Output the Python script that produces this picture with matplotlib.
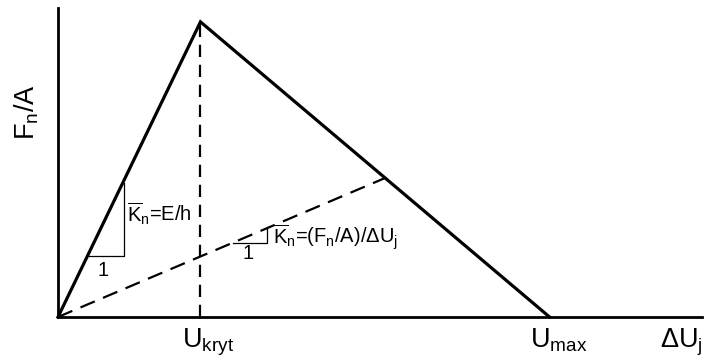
import matplotlib
matplotlib.use("Agg")
import matplotlib.pyplot as plt

plt.rcParams.update({
    "font.family": "Liberation Sans",
    "mathtext.fontset": "custom",
    "mathtext.rm": "Liberation Sans",
    "mathtext.it": "Liberation Sans:italic",
    "mathtext.bf": "Liberation Sans:bold",
})

# characteristic points (Ukryt = 1, peak stress = 1)
u_kryt = 1.0
u_max = 3.45
f_peak = 1.0
secant_end = (2.296, 0.471)          # where the secant meets the softening branch
x_end, y_end = 4.52, 1.047           # axis extents

# small slope triangles: (x0, x1, y0, y1)
tri_elastic = (0.218, 0.465, 0.207, 0.454)
tri_secant = (1.225, 1.465, 0.252, 0.305)

W, H = 704, 363
fig = plt.figure(figsize=(W / 100, H / 100), dpi=100)
ax = fig.add_axes([58 / W, (H - 317) / H, (702 - 58) / W, (317 - 8) / H])
ax.set_xlim(0, x_end)
ax.set_ylim(0, y_end)
for s in ("top", "right"):
    ax.spines[s].set_visible(False)
for s in ("left", "bottom"):
    ax.spines[s].set_linewidth(2.0)
ax.set_xticks([]); ax.set_yticks([])

# bilinear envelope
ax.plot([0, u_kryt, u_max], [0, f_peak, 0], color="black", lw=2.3,
        solid_joinstyle="miter", clip_on=False)
# vertical at Ukryt and the secant
ax.plot([u_kryt, u_kryt], [0, f_peak], color="black", lw=1.6, ls=(0, (5.5, 3.5)), clip_on=False)
ax.plot([0, secant_end[0]], [0, secant_end[1]], color="black", lw=1.6, ls=(0, (7, 4)), clip_on=False)

for x0, x1, y0, y1 in (tri_elastic, tri_secant):
    ax.plot([x0, x1, x1], [y0, y0, y1], color="black", lw=0.9, clip_on=False)

big = 19.5
small = 14.5
ax.text(0.873, -0.102, r"U$_\mathrm{kryt}$", fontsize=big, ha="left", va="baseline", clip_on=False)
ax.text(3.310, -0.102, r"U$_\mathrm{max}$", fontsize=big, ha="left", va="baseline", clip_on=False)
ax.text(4.225, -0.102, r"ΔU$_\mathrm{j}$", fontsize=big, ha="left", va="baseline", clip_on=False)
ax.text(-0.162, 0.600, r"F$_\mathrm{n}$/A", fontsize=big, rotation=90, rotation_mode="anchor",
        ha="left", va="baseline", clip_on=False)

ax.text(0.486, 0.322, r"$\overline{\mathrm{K}}_\mathrm{n}$=E/h", fontsize=small,
        ha="left", va="baseline")
ax.text(1.507, 0.247, r"$\overline{\mathrm{K}}_\mathrm{n}$=(F$_\mathrm{n}$/A)/ΔU$_\mathrm{j}$",
        fontsize=small, ha="left", va="baseline")
ax.text(0.317, 0.159, "1", fontsize=small, ha="center", va="center")
ax.text(1.331, 0.214, "1", fontsize=small, ha="center", va="center")

fig.savefig("out.png", dpi=100)
